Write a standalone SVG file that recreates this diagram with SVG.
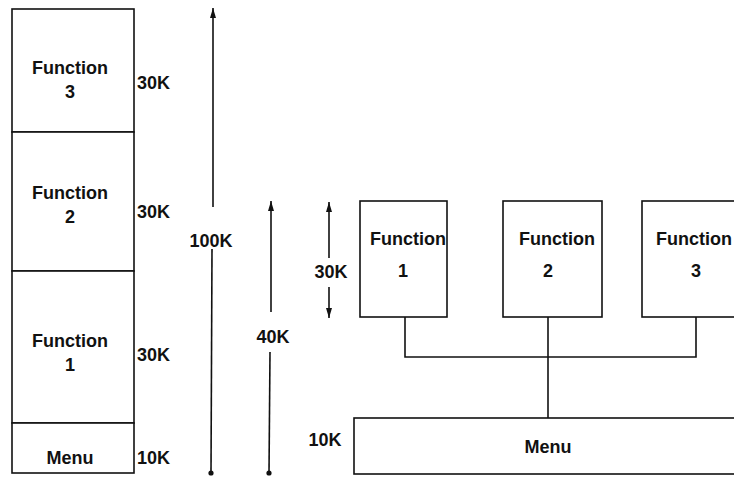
<svg xmlns="http://www.w3.org/2000/svg" width="734" height="477" viewBox="0 0 734 477">
<style>
.box{fill:#fff;stroke:#111;stroke-width:1.6}
.t{font-family:"Liberation Sans",Arial,sans-serif;font-size:18px;font-weight:bold;fill:#111}
.m{text-anchor:middle}
.ln{fill:none;stroke:#111;stroke-width:1.6}
</style>
<defs>
<marker id="ah" viewBox="0 0 10 6" refX="10" refY="3" markerWidth="10" markerHeight="6" markerUnits="userSpaceOnUse" orient="auto-start-reverse">
<path d="M0,0 L10,3 L0,6 Z" fill="#111"/>
</marker>
<marker id="dot" viewBox="0 0 6 6" refX="3" refY="3" markerWidth="6" markerHeight="6" markerUnits="userSpaceOnUse">
<circle cx="3" cy="3" r="2.6" fill="#111"/>
</marker>
</defs>
<rect width="734" height="477" fill="#fff"/>

<g id="stack-function3">
<rect class="box" x="12" y="9" width="122" height="123"/>
<text class="t m" x="70" y="74">Function</text>
<text class="t m" x="70" y="98">3</text>
</g>
<g id="stack-function2">
<rect class="box" x="12" y="132" width="122" height="139"/>
<text class="t m" x="70" y="199">Function</text>
<text class="t m" x="70" y="223">2</text>
</g>
<g id="stack-function1">
<rect class="box" x="12" y="271" width="122" height="152"/>
<text class="t m" x="70" y="347">Function</text>
<text class="t m" x="70" y="371">1</text>
</g>
<g id="stack-menu">
<rect class="box" x="12" y="423" width="122" height="50"/>
<text class="t m" x="70" y="464">Menu</text>
</g>

<g id="size-labels">
<text class="t" x="137" y="89">30K</text>
<text class="t" x="137" y="218">30K</text>
<text class="t" x="137" y="361">30K</text>
<text class="t" x="137" y="464">10K</text>
<text class="t m" x="211" y="247">100K</text>
<text class="t m" x="273" y="343">40K</text>
<text class="t m" x="331" y="278">30K</text>
<text class="t m" x="325" y="446">10K</text>
</g>

<g id="dimensions">
<line class="ln" x1="213" y1="8" x2="213" y2="207" marker-start="url(#ah)"/>
<line class="ln" x1="212" y1="249" x2="211" y2="473" marker-end="url(#dot)"/>
<line class="ln" x1="271" y1="201" x2="271" y2="312" marker-start="url(#ah)"/>
<line class="ln" x1="270" y1="352" x2="269" y2="473" marker-end="url(#dot)"/>
<line class="ln" x1="329" y1="202" x2="329" y2="258" marker-start="url(#ah)"/>
<line class="ln" x1="329" y1="287" x2="329" y2="318" marker-end="url(#ah)"/>
</g>

<g id="function1">
<rect class="box" x="360" y="201" width="87" height="116"/>
<text class="t m" x="408" y="245">Function</text>
<text class="t m" x="403" y="277">1</text>
</g>
<g id="function2">
<rect class="box" x="503" y="201" width="99" height="116"/>
<text class="t m" x="557" y="245">Function</text>
<text class="t m" x="548" y="277">2</text>
</g>
<g id="function3">
<rect class="box" x="642" y="201" width="100" height="116"/>
<text class="t m" x="694" y="245">Function</text>
<text class="t m" x="696" y="277">3</text>
</g>
<g id="menu">
<rect class="box" x="354" y="418" width="390" height="56"/>
<text class="t m" x="548" y="453">Menu</text>
</g>

<g id="connectors">
<polyline class="ln" points="405,317 405,357 696,357 696,317"/>
<line class="ln" x1="548" y1="317" x2="548" y2="418"/>
</g>
</svg>
